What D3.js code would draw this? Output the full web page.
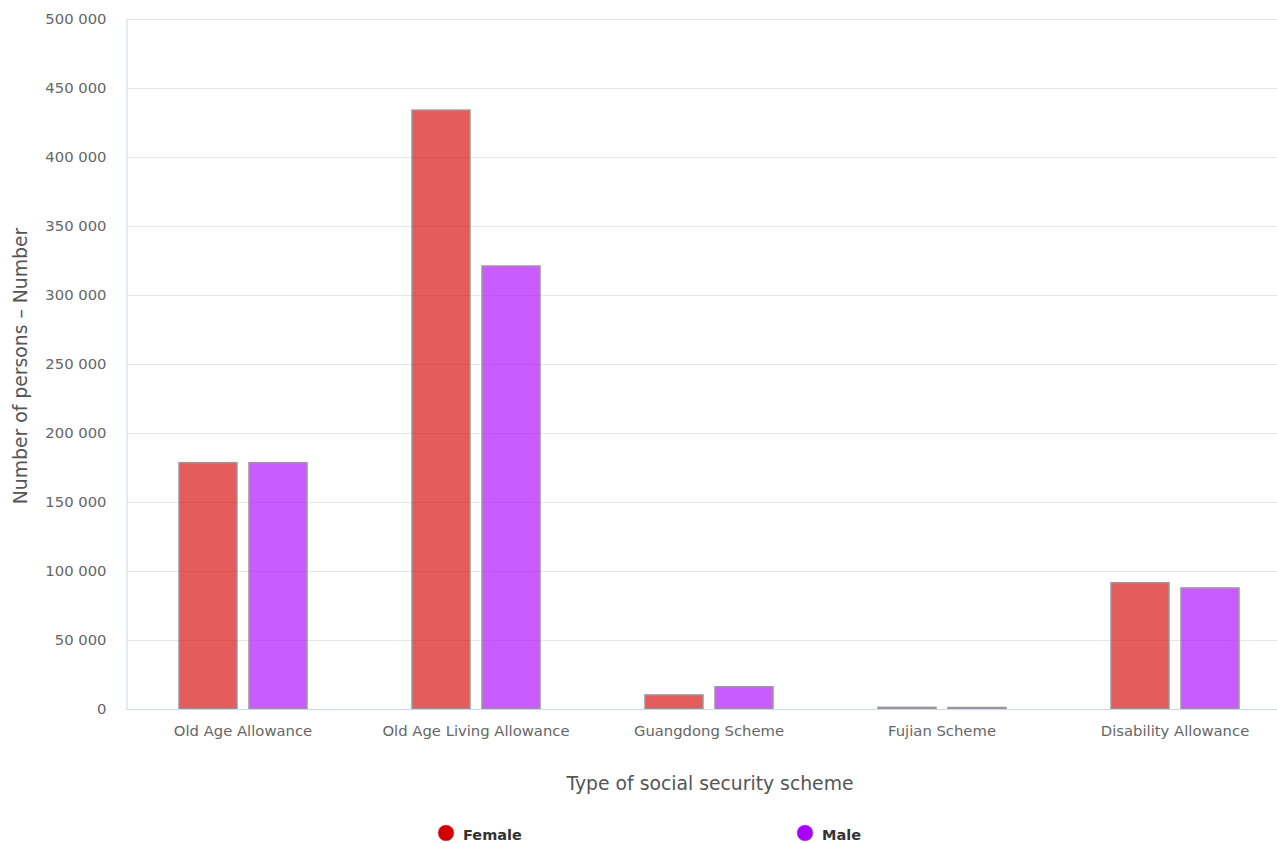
<!DOCTYPE html>
<html><head><meta charset="utf-8">
<script src="https://cdn.jsdelivr.net/npm/d3@7"></script>
<style>
body{margin:0;background:#fff;}
svg{display:block;}
</style></head>
<body><svg id="chart" width="1277" height="843"></svg>
<script>
const categories = ["Old Age Allowance","Old Age Living Allowance","Guangdong Scheme","Fujian Scheme","Disability Allowance"];
const seriesNames = ["Female","Male"];
const female = [178500, 434000, 10200, 1200, 91500];
const male = [178500, 321000, 16100, 1100, 87700];
const yTicks = [0,50000,100000,150000,200000,250000,300000,350000,400000,450000,500000];
const legendColors = ["#d40000","#aa00ff"];
const barColors = ["#d40000","#aa00ff"];

(function(){
const svg = d3.select("#chart");
const font = "DejaVu Sans, sans-serif";
const mLeft = 126.5, mRight = 1291.5, mTop = 19, mBottom = 709;

const x = d3.scaleBand().domain(categories).range([mLeft,mRight]).paddingInner(0).paddingOuter(0);
const bw = x.bandwidth();
const xs = d3.scaleBand().domain(seriesNames).range([bw*0.2253, bw*0.7747]).paddingInner(0.1714).paddingOuter(0);
const y = d3.scaleLinear().domain([0,500000]).range([mBottom,mTop]);

const fmt = v => d3.format(",")(v).replace(/,/g," ");

// gridlines
svg.append("g").selectAll("line").data(yTicks.filter(d=>d>0)).join("line")
  .attr("x1",mLeft).attr("x2",1277).attr("y1",d=>Math.round(y(d))+0.5).attr("y2",d=>Math.round(y(d))+0.5)
  .attr("stroke","#e6e6e6").attr("stroke-width",1);

// bars
const data = categories.map((c,i)=>({c, vals:[female[i],male[i]]}));
const groups = svg.append("g").selectAll("g").data(data).join("g")
  .attr("transform",d=>`translate(${x(d.c)},0)`);
groups.selectAll("rect").data(d=>d.vals.map((v,j)=>({v,j}))).join("rect")
  .attr("x",d=>xs(seriesNames[d.j]))
  .attr("width",xs.bandwidth())
  .attr("y",d=>y(d.v))
  .attr("height",d=>y(0)-y(d.v))
  .attr("fill",d=>barColors[d.j]).attr("fill-opacity",0.64)
  .attr("stroke","#999").attr("stroke-width",1.5);

// y axis
const yAxis = d3.axisLeft(y).tickValues(yTicks).tickFormat(fmt).tickSize(0).tickPadding(20);
const yg = svg.append("g").attr("transform",`translate(${mLeft},0)`).call(yAxis);
yg.select(".domain").attr("stroke","#ccd6eb");
yg.selectAll("text").attr("font-family",font).attr("font-size","14.8px").attr("fill","#666");

// x axis
const xAxis = d3.axisBottom(x).tickSize(0).tickPadding(16);
const xg = svg.append("g").attr("transform",`translate(0,${mBottom})`).call(xAxis);
xg.select(".domain").attr("stroke","#ccd6eb").attr("d",`M${mLeft},0.5H1277`);
xg.selectAll("text").attr("font-family",font).attr("font-size","14.8px").attr("fill","#666");

// axis titles
svg.append("text").attr("transform","translate(27,366) rotate(-90)").attr("text-anchor","middle")
  .attr("font-family",font).attr("font-size","18.8px").attr("fill","#555").text("Number of persons – Number");
svg.append("text").attr("x",710).attr("y",790).attr("text-anchor","middle")
  .attr("font-family",font).attr("font-size","18.8px").attr("fill","#555").text("Type of social security scheme");

// legend
const legendX = [446, 805];
const lg = svg.append("g").selectAll("g").data(seriesNames).join("g")
  .attr("transform",(d,i)=>`translate(${legendX[i]},833)`);
lg.append("circle").attr("r",8).attr("fill",(d,i)=>legendColors[i]).attr("stroke","#999").attr("stroke-width",0.5);
lg.append("text").attr("x",17).attr("y",7).attr("font-family",font).attr("font-size","14.5px")
  .attr("font-weight","bold").attr("fill","#333").text(d=>d);
})();
</script></body></html>
